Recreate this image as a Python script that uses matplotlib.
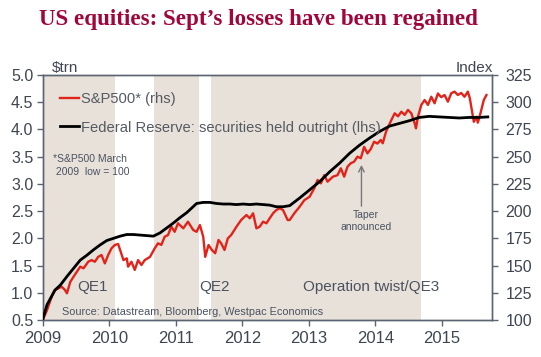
import numpy as np
import matplotlib
matplotlib.use("Agg")
import matplotlib.pyplot as plt

plt.rcParams['font.family'] = ['Liberation Sans', 'DejaVu Sans']

# Fed securities held outright, $trn (lhs)
fed_t = [2009.0, 2009.06, 2009.1, 2009.18, 2009.26, 2009.36, 2009.46, 2009.56, 2009.66, 2009.76,
         2009.86, 2009.96, 2010.06, 2010.16, 2010.26, 2010.36, 2010.46, 2010.56, 2010.66, 2010.76,
         2010.86, 2010.96, 2011.06, 2011.16, 2011.24, 2011.31, 2011.41, 2011.51, 2011.61, 2011.71,
         2011.81, 2011.91, 2012.01, 2012.11, 2012.21, 2012.31, 2012.41, 2012.51, 2012.61, 2012.71,
         2012.86, 2013.01, 2013.16, 2013.31, 2013.46, 2013.61, 2013.76, 2013.91, 2014.06, 2014.21,
         2014.36, 2014.51, 2014.66, 2014.81, 2014.96, 2015.11, 2015.26, 2015.41, 2015.56, 2015.69]
fed_v = [0.53, 0.78, 0.87, 1.05, 1.14, 1.30, 1.45, 1.60, 1.69, 1.79,
         1.88, 1.96, 2.00, 2.04, 2.07, 2.07, 2.06, 2.05, 2.04, 2.10,
         2.19, 2.28, 2.38, 2.47, 2.56, 2.64, 2.66, 2.66, 2.64, 2.63,
         2.63, 2.62, 2.63, 2.62, 2.63, 2.62, 2.61, 2.58, 2.58, 2.60,
         2.74, 2.89, 3.04, 3.22, 3.38, 3.56, 3.71, 3.84, 3.96, 4.06,
         4.11, 4.16, 4.22, 4.24, 4.23, 4.22, 4.21, 4.22, 4.22, 4.23]

# S&P500 index, March 2009 low = 100 (rhs)
spx_t = [2009.0, 2009.06, 2009.13, 2009.18, 2009.23, 2009.28, 2009.33, 2009.36, 2009.41, 2009.46,
         2009.51, 2009.56, 2009.61, 2009.68, 2009.73, 2009.78, 2009.83, 2009.88, 2009.93, 2009.98,
         2010.03, 2010.08, 2010.13, 2010.16, 2010.21, 2010.26, 2010.28, 2010.33, 2010.38, 2010.43,
         2010.48, 2010.53, 2010.61, 2010.68, 2010.73, 2010.78, 2010.83, 2010.88, 2010.93, 2010.98,
         2011.03, 2011.11, 2011.18, 2011.26, 2011.31, 2011.36, 2011.41, 2011.44, 2011.49, 2011.54,
         2011.59, 2011.64, 2011.68, 2011.73, 2011.78, 2011.83, 2011.91, 2011.98, 2012.06, 2012.11,
         2012.16, 2012.21, 2012.26, 2012.31, 2012.36, 2012.41, 2012.46, 2012.51, 2012.56, 2012.61,
         2012.68, 2012.71, 2012.78, 2012.86, 2012.93, 2013.01, 2013.08, 2013.13, 2013.18, 2013.23,
         2013.28, 2013.36, 2013.43, 2013.48, 2013.53, 2013.58, 2013.63, 2013.68, 2013.73, 2013.78,
         2013.83, 2013.88, 2013.93, 2013.98, 2014.03, 2014.08, 2014.11, 2014.16, 2014.24, 2014.29,
         2014.34, 2014.39, 2014.44, 2014.49, 2014.54, 2014.59, 2014.61, 2014.64, 2014.69, 2014.74,
         2014.79, 2014.84, 2014.89, 2014.94, 2014.99, 2015.04, 2015.09, 2015.14, 2015.19, 2015.24,
         2015.29, 2015.34, 2015.39, 2015.42, 2015.45, 2015.48, 2015.52, 2015.54, 2015.58, 2015.63,
         2015.67]
spx_v = [100.6, 109, 121.4, 127.6, 129, 130.6, 127.6, 124.5, 135, 139.8,
         144.4, 149, 147.5, 153.5, 155, 153.5, 158, 159.7, 152, 159.7,
         165.8, 168.9, 169.8, 164.3, 155, 156.6, 149, 153.5, 146, 155,
         150.5, 155, 158, 165.8, 170.4, 169, 176.5, 178, 185.7, 181,
         188.8, 184.2, 190.3, 182.6, 181, 187.2, 176.5, 158, 168.9, 164.3,
         161.3, 173.5, 170.4, 164.3, 175, 178, 185.7, 191.8, 196.4, 193.4,
         198, 184.2, 185.7, 190.3, 188.8, 193.4, 198, 201, 202.6, 201,
         191.8, 191.8, 198, 204, 210, 213.2, 221, 228.6, 225.5, 233,
         227, 231.6, 233, 239.3, 231.6, 240.8, 244, 245.4, 250, 248.5,
         259, 253, 257, 263.7, 262, 265.3, 262.3, 273, 283.7, 289.8,
         287, 291.3, 288.3, 292.9, 289.8, 280.6, 276, 286.7, 297.5, 302,
         297.5, 305, 299, 308, 304.6, 306.6, 300.5, 308.2, 309.7, 306.6,
         308.5, 305, 309.7, 303.6, 292.9, 282, 286.7, 281.2, 289.8, 302,
         306.6]

# policy periods (shaded)
qe_start = [2009.0, 2010.67, 2011.52]
qe_end = [2010.09, 2011.34, 2014.69]
qe_names = ["QE1", "QE2", "Operation twist/QE3"]
qe_label_x = [2009.75, 2011.58, 2013.94]

years = [2009, 2010, 2011, 2012, 2013, 2014, 2015]
lhs_ticks = np.arange(0.5, 5.01, 0.5)
rhs_ticks = np.arange(100, 326, 25)

axis_col = '#5b6470'
text_col = '#3e4652'
red = '#e2231a'
shade = '#e8e1da'

fig = plt.figure(figsize=(5.41, 3.57), dpi=100)
ax2 = fig.add_axes([0.0795, 0.1036, 0.8295, 0.6864])
ax = ax2.twinx()
# black series on the front axes, spans and red behind
ax.set_zorder(ax2.get_zorder() + 1)
ax.patch.set_visible(False)
ax.yaxis.tick_left()
ax.yaxis.set_label_position('left')
ax2.yaxis.tick_right()

for s, e in zip(qe_start, qe_end):
    ax2.axvspan(s, e, color=shade, lw=0, zorder=0)

l1, = ax2.plot(spx_t, spx_v, color=red, lw=1.7, label="S&P500* (rhs)", zorder=3)
l2, = ax.plot(fed_t, fed_v, color='black', lw=2, label="Federal Reserve: securities held outright (lhs)", zorder=3)

ax2.set_xlim(2009.0, 2015.75)
ax2.set_ylim(100, 325)
ax.set_ylim(0.5, 5.0)
ax2.set_yticks(rhs_ticks)
ax.set_yticks(lhs_ticks)
ax.set_yticklabels(["%.1f" % v for v in lhs_ticks])
ax2.set_xticks(years)
ax2.set_xticklabels([str(y) for y in years])

for a in (ax, ax2):
    for sp in a.spines.values():
        sp.set_color(axis_col)
        sp.set_linewidth(1)
    a.tick_params(colors=axis_col, labelcolor=text_col, length=4, width=1)
ax.tick_params(axis='y', labelsize=11.5, pad=3)
ax2.tick_params(axis='y', labelsize=11.5, pad=6)
ax2.tick_params(axis='x', labelsize=12, pad=4)

leg = ax.legend(handles=[l1, l2], loc='upper left', bbox_to_anchor=(0.025, 0.955),
                frameon=False, fontsize=10.6, handlelength=1.3, handletextpad=0.15,
                labelspacing=1.0, borderaxespad=0)
for t in leg.get_texts():
    t.set_color('#555b63')

for x, name in zip(qe_label_x, qe_names):
    ax2.text(x, 0.135, name, transform=ax2.get_xaxis_transform(), ha='center', va='center',
             fontsize=11, color='#4a5260')

ax2.text(0.022, 0.63, "*S&P500 March\n 2009  low = 100", transform=ax2.transAxes,
         fontsize=7.5, color='#4a5260', va='center', linespacing=1.4)
ax2.text(0.043, 0.034, "Source: Datastream, Bloomberg, Westpac Economics", transform=ax2.transAxes,
         fontsize=7.8, color='#4a5260', va='center')

ax2.annotate("", xy=(2013.79, 245), xytext=(2013.79, 202),
             arrowprops=dict(arrowstyle='->', color='#777777', lw=1))
ax2.text(2013.86, 201, "Taper\nannounced", ha='center', va='top', fontsize=7.5,
         color='#4a5260', linespacing=1.2)

fig.text(0.096, 0.81, "$trn", fontsize=11, color=text_col, va='center', ha='left')
fig.text(0.911, 0.81, "Index", fontsize=11, color=text_col, va='center', ha='right')
fig.text(0.477, 0.945, "US equities: Sept\u2019s losses have been regained", fontsize=16.6,
         family='Liberation Serif', weight='bold', color='#a0063a', ha='center', va='center')

fig.savefig("out.png", dpi=100)
